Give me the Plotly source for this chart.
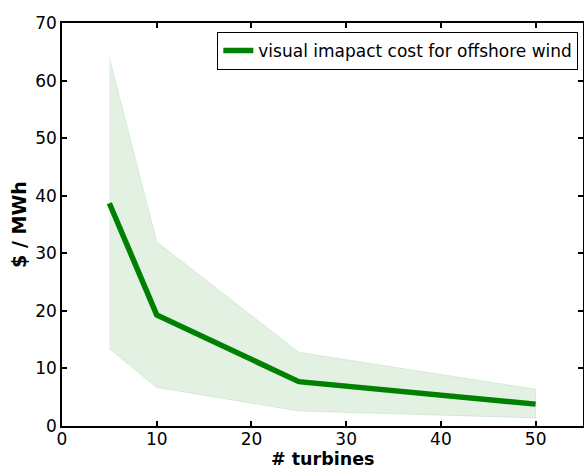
import plotly.graph_objects as go

turbines = [5, 10, 25, 50]
cost_mean = [38.7, 19.3, 7.7, 3.8]
cost_upper = [64.0, 32.0, 12.8, 6.4]
cost_lower = [13.4, 6.7, 2.6, 1.4]
series_name = "visual imapact cost for offshore wind"
x_title = "# turbines"
y_title = "$ / MWh"

fig = go.Figure()
fig.add_trace(go.Scatter(
    x=turbines + turbines[::-1],
    y=cost_upper + cost_lower[::-1],
    mode="lines",
    fill="toself",
    fillcolor="rgba(0,128,0,0.11)",
    line=dict(width=0.8, color="rgba(0,128,0,0.13)"),
    hoverinfo="skip",
    showlegend=False,
))
fig.add_trace(go.Scatter(
    x=turbines, y=cost_mean, mode="lines",
    line=dict(color="#008000", width=5.5),
    name=series_name,
))

font = "DejaVu Sans, sans-serif"
axis_common = dict(
    showline=True, linecolor="black", linewidth=1.5, mirror="ticks",
    ticks="inside", ticklen=5, tickwidth=1.5, tickcolor="black",
    showgrid=False, zeroline=False, automargin=False,
    tickfont=dict(family=font, size=17, color="black"),
)
fig.update_layout(
    width=584, height=468,
    margin=dict(l=62, r=1, t=23, b=42),
    paper_bgcolor="white", plot_bgcolor="white",
    font=dict(family=font, color="black"),
    xaxis=dict(range=[0, 55], tickvals=[0, 10, 20, 30, 40, 50],
               ticklabelstandoff=-3, **axis_common),
    yaxis=dict(range=[0, 70], tickvals=[0, 10, 20, 30, 40, 50, 60, 70],
               title=dict(text="<b>" + y_title + "</b>", font=dict(family=font, size=19), standoff=4),
               **axis_common),
    legend=dict(x=0.991, y=0.978, xanchor="right", yanchor="top",
                bordercolor="black", borderwidth=1, bgcolor="white",
                font=dict(family=font, size=17)),
)
fig.add_annotation(
    text="<b>" + x_title + "</b>", xref="paper", yref="paper",
    x=0.5, y=0, xanchor="center", yanchor="top", yshift=-21.5,
    showarrow=False, borderpad=0, font=dict(family=font, size=17.5, color="black"),
)
fig.write_html("out.html")
